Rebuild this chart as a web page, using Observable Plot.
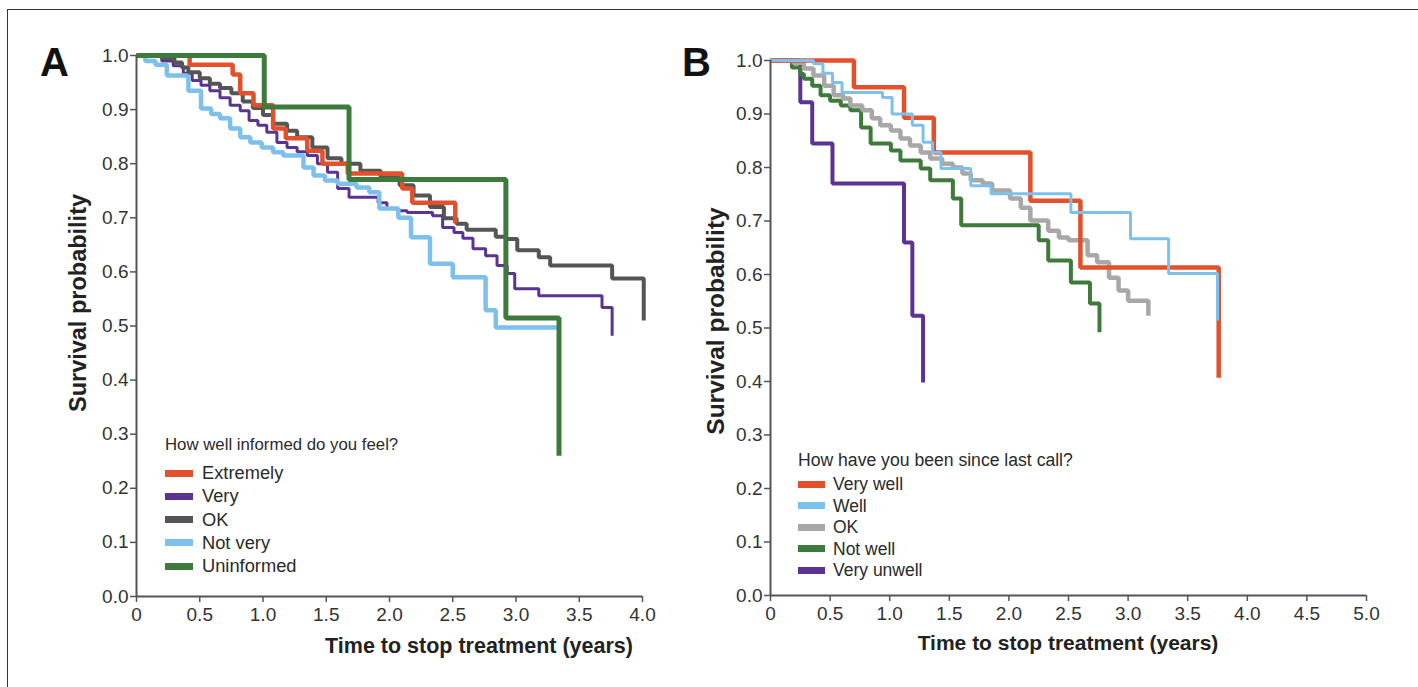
<!DOCTYPE html>
<html><head><meta charset="utf-8">
<script src="https://cdn.jsdelivr.net/npm/d3@7"></script>
<script src="https://cdn.jsdelivr.net/npm/@observablehq/plot@0.6"></script>
<style>
body{margin:0;background:#fff;font-family:"Liberation Sans",Arial,sans-serif;}
#fig{position:relative;width:1418px;height:687px;overflow:hidden;background:#fff;}
.abs{position:absolute;white-space:nowrap;color:#222;}
.panel{position:absolute;top:0;}
.sw{position:absolute;height:7px;}
.lt{position:absolute;white-space:nowrap;color:#2a2a2a;line-height:1;}
</style></head><body><div id="fig"></div>
<script>
// ---------- Panel A: "How well informed do you feel?" ----------
const A_extremely = [[0,1],[0.42,0.983],[0.76,0.965],[0.82,0.93],[0.925,0.908],[1.08,0.865],[1.18,0.847],[1.35,0.824],[1.47,0.80],[1.67,0.782],[2.10,0.754],[2.18,0.728],[2.52,0.69]];
const A_very = [[0,1],[0.2,0.99],[0.29,0.981],[0.37,0.967],[0.44,0.954],[0.51,0.945],[0.58,0.935],[0.66,0.922],[0.74,0.908],[0.82,0.898],[0.89,0.88],[0.96,0.871],[1.03,0.858],[1.11,0.839],[1.19,0.83],[1.27,0.822],[1.35,0.815],[1.43,0.80],[1.51,0.784],[1.59,0.754],[1.68,0.738],[1.91,0.728],[1.98,0.717],[2.06,0.713],[2.14,0.71],[2.34,0.704],[2.42,0.682],[2.51,0.673],[2.58,0.662],[2.66,0.643],[2.76,0.63],[2.85,0.612],[2.93,0.597],[2.99,0.569],[3.18,0.556],[3.68,0.534],[3.76,0.482]];
const A_ok = [[0,1],[0.2,0.995],[0.3,0.987],[0.36,0.978],[0.41,0.969],[0.5,0.958],[0.58,0.948],[0.66,0.94],[0.75,0.93],[0.84,0.915],[0.92,0.903],[1.0,0.89],[1.08,0.874],[1.19,0.861],[1.27,0.849],[1.39,0.83],[1.51,0.81],[1.62,0.80],[1.77,0.787],[1.93,0.775],[2.08,0.76],[2.19,0.741],[2.32,0.72],[2.43,0.699],[2.53,0.689],[2.61,0.678],[2.84,0.665],[2.92,0.661],[3.01,0.64],[3.18,0.627],[3.27,0.612],[3.76,0.588],[4.01,0.51]];
const A_notvery = [[0,1],[0.07,0.99],[0.15,0.983],[0.24,0.963],[0.41,0.935],[0.51,0.902],[0.59,0.892],[0.66,0.884],[0.74,0.865],[0.82,0.849],[0.90,0.839],[0.99,0.83],[1.08,0.821],[1.16,0.815],[1.32,0.793],[1.40,0.778],[1.49,0.769],[1.59,0.763],[1.74,0.756],[1.84,0.747],[1.92,0.717],[2.07,0.70],[2.17,0.664],[2.32,0.615],[2.50,0.59],[2.76,0.529],[2.84,0.497],[3.33,0.497]];
const A_uninformed = [[0,1],[1.01,0.905],[1.68,0.771],[2.92,0.515],[3.34,0.26]];
const A_labels = ["Extremely","Very","OK","Not very","Uninformed"];
const A_colors = ["#e2502c","#5b3392","#555555","#7dc0ec","#3e7a3c"];
const A_widths = [4.5,3,4,4.5,5];
const A_series = [A_extremely,A_very,A_ok,A_notvery,A_uninformed];
const A_order = [1,3,2,0,4];
const A_xticks = [0,0.5,1.0,1.5,2.0,2.5,3.0,3.5,4.0];

// ---------- Panel B: "How have you been since last call?" ----------
const B_verywell = [[0,1],[0.70,0.95],[1.12,0.893],[1.37,0.828],[2.18,0.738],[2.60,0.613],[3.76,0.407]];
const B_well = [[0,1],[0.36,0.994],[0.44,0.976],[0.52,0.959],[0.60,0.94],[0.94,0.931],[1.02,0.90],[1.19,0.879],[1.28,0.847],[1.36,0.828],[1.43,0.798],[1.68,0.766],[1.85,0.751],[2.52,0.716],[3.02,0.667],[3.34,0.602],[3.75,0.514]];
const B_ok = [[0,1],[0.19,0.996],[0.28,0.985],[0.36,0.972],[0.45,0.953],[0.53,0.935],[0.61,0.929],[0.67,0.916],[0.77,0.907],[0.85,0.892],[0.92,0.879],[1.01,0.869],[1.09,0.854],[1.17,0.841],[1.26,0.828],[1.34,0.817],[1.44,0.807],[1.53,0.80],[1.61,0.789],[1.68,0.776],[1.78,0.77],[1.86,0.757],[2.01,0.742],[2.10,0.725],[2.18,0.701],[2.33,0.682],[2.42,0.669],[2.50,0.664],[2.66,0.636],[2.74,0.623],[2.84,0.594],[2.92,0.57],[3.00,0.551],[3.17,0.523]];
const B_notwell = [[0,1],[0.18,0.987],[0.25,0.975],[0.28,0.966],[0.35,0.953],[0.42,0.935],[0.50,0.925],[0.59,0.916],[0.67,0.907],[0.76,0.875],[0.84,0.845],[1.01,0.832],[1.09,0.813],[1.26,0.798],[1.34,0.776],[1.53,0.742],[1.60,0.692],[2.25,0.664],[2.33,0.626],[2.52,0.585],[2.68,0.546],[2.76,0.492]];
const B_veryunwell = [[0,1],[0.25,0.922],[0.35,0.845],[0.52,0.77],[1.12,0.66],[1.19,0.523],[1.28,0.398]];
const B_labels = ["Very well","Well","OK","Not well","Very unwell"];
const B_colors = ["#e2502c","#7dc0ec","#a8a8a8","#3e7a3c","#5b3392"];
const B_widths = [4.5,3,4.5,4,4];
const B_series = [B_verywell,B_well,B_ok,B_notwell,B_veryunwell];
const B_order = [4,3,2,0,1];
const B_xticks = [0,0.5,1.0,1.5,2.0,2.5,3.0,3.5,4.0,4.5,5.0];

const yTicks = [0,0.1,0.2,0.3,0.4,0.5,0.6,0.7,0.8,0.9,1.0];
const xFmt = d => d === 0 ? "0" : d.toFixed(1);

function panel(series, colors, widths, order, xmax, xticks, w, h, m) {
  const marks = [
    Plot.axisY({ticks: yTicks, tickFormat: d3.format(".1f"), tickSize: 6, tickPadding: 2, label: null, fontSize: 19, fill: "#333", stroke: "#555", strokeWidth: 1.5}),
    Plot.axisX({ticks: xticks, tickFormat: xFmt, tickSize: 6, tickPadding: 5, label: null, fontSize: 19, fill: "#333", stroke: "#555", strokeWidth: 1.5}),
  ];
  for (const i of order) {
    marks.push(Plot.line(series[i], {x: d => d[0], y: d => d[1], curve: "step-after", stroke: colors[i], strokeWidth: widths[i], strokeLinejoin: "miter", strokeLinecap: "butt"}));
  }
  marks.push(Plot.ruleX([0], {stroke: "#555", strokeWidth: 2}));
  marks.push(Plot.ruleY([0], {stroke: "#555", strokeWidth: 2}));
  return Plot.plot({
    width: w, height: h,
    marginLeft: m[0], marginTop: m[1], marginRight: m[2], marginBottom: m[3],
    x: {domain: [0, xmax], label: null},
    y: {domain: [0, 1], label: null},
    style: {fontFamily: "Liberation Sans, Arial, sans-serif", background: "transparent", overflow: "visible"},
    marks
  });
}

const fig = document.getElementById("fig");
const pA = panel(A_series, A_colors, A_widths, A_order, 4.0, A_xticks, 690, 687, [136, 55, 48, 91]);
pA.classList.add("panel"); pA.style.left = "0px";
fig.appendChild(pA);
const pB = panel(B_series, B_colors, B_widths, B_order, 5.0, B_xticks, 718, 687, [70, 60, 52, 92]);
pB.classList.add("panel"); pB.style.left = "700px";
fig.appendChild(pB);

function addDiv(html, style) {
  const d = document.createElement("div");
  d.className = "abs"; d.innerHTML = html;
  Object.assign(d.style, style);
  fig.appendChild(d);
  return d;
}
// frame lines
addDiv("", {left: "7px", top: "9px", width: "1411px", height: "0", borderTop: "1px solid #333"});
addDiv("", {left: "7px", top: "9px", width: "0", height: "678px", borderLeft: "1px solid #333"});
// panel letters
addDiv("A", {left: "40px", top: "40px", fontSize: "40px", fontWeight: "bold", color: "#111"});
addDiv("B", {left: "682px", top: "40px", fontSize: "40px", fontWeight: "bold", color: "#111"});
// axis titles
addDiv("Time to stop treatment (years)", {left: "479px", top: "646px", fontSize: "21.5px", fontWeight: "bold", transform: "translate(-50%,-50%)"});
addDiv("Time to stop treatment (years)", {left: "1068px", top: "643px", fontSize: "21px", fontWeight: "bold", transform: "translate(-50%,-50%)"});
addDiv("Survival probability", {left: "78px", top: "303px", fontSize: "23.5px", fontWeight: "bold", transform: "translate(-50%,-50%) rotate(-90deg)"});
addDiv("Survival probability", {left: "716px", top: "321px", fontSize: "24.5px", fontWeight: "bold", transform: "translate(-50%,-50%) rotate(-90deg)"});

function legend(title, labels, colors, x, titleY, rowY0, dy, swW, labelX, tSize, lSize) {
  addDiv(title, {left: x + "px", top: titleY + "px", fontSize: tSize + "px", color: "#2a2a2a", transform: "translateY(-50%)"});
  labels.forEach((lab, i) => {
    const cy = rowY0 + i * dy;
    const s = document.createElement("div");
    s.className = "sw";
    Object.assign(s.style, {left: x + "px", top: (cy - 3.5) + "px", width: swW + "px", background: colors[i]});
    fig.appendChild(s);
    addDiv(lab, {left: labelX + "px", top: cy + "px", fontSize: lSize + "px", color: "#2a2a2a", transform: "translateY(-50%)"});
  });
}
legend("How well informed do you feel?", A_labels, A_colors, 165, 445, 473, 23.3, 28, 202, 16.8, 18.3);
legend("How have you been since last call?", B_labels, B_colors, 798, 460, 484, 21.5, 27, 833, 17.6, 17.5);
</script></body></html>
